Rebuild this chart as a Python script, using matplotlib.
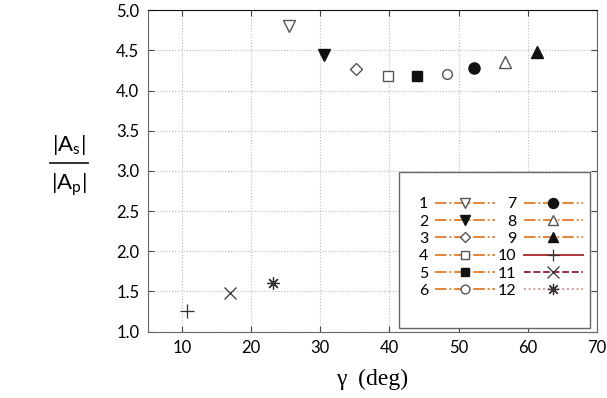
import numpy as np
import matplotlib
matplotlib.use("Agg")
import matplotlib.pyplot as plt
from matplotlib.lines import Line2D
from matplotlib.patches import Rectangle

# data
labels = ["1", "2", "3", "4", "5", "6", "7", "8", "9", "10", "11", "12"]
gamma = [25.4, 30.5, 35.2, 39.8, 44.0, 48.3, 52.2, 56.7, 61.3, 10.7, 16.9, 23.1]
ratio = [4.80, 4.44, 4.27, 4.18, 4.18, 4.21, 4.275, 4.36, 4.475, 1.26, 1.485, 1.60]

markers = ["v", "v", "D", "s", "s", "o", "o", "^", "^", "+", "x", (8, 2, 0)]
filled = [False, True, False, False, True, False, True, False, True, True, True, True]
msizes = [8, 8, 6, 6.5, 6.5, 7, 8, 8, 8, 10, 9, 9]
line_colors = ["#e07b28"] * 9 + ["#a8282e", "#8c1c2c", "#d98a8a"]
line_styles = ["-."] * 9 + ["-", "--", ":"]

plt.rcParams["font.family"] = ["Lato", "DejaVu Sans"]
plt.rcParams["mathtext.fontset"] = "custom"
plt.rcParams["mathtext.rm"] = "Lato"
plt.rcParams["mathtext.it"] = "Lato"


def marker_style(m, f):
    if m in ("+", "x") or isinstance(m, tuple):
        return dict(marker=m, mec="#333333", mfc="#333333", mew=0.9)
    if f:
        return dict(marker=m, mfc="#111111", mec="#111111")
    return dict(marker=m, mfc="white", mec="#555555", mew=1.0)


fig = plt.figure(figsize=(6.07, 3.98), dpi=100)
ax = fig.add_axes([0.2433, 0.1666, 0.7397, 0.808])

for g, r, m, f, ms in zip(gamma, ratio, markers, filled, msizes):
    ax.plot(g, r, ls="none", ms=ms, **marker_style(m, f))

ax.set_xlim(5, 70)
ax.set_ylim(1.0, 5.0)
ax.set_xticks(np.arange(10, 71, 10))
ax.set_yticks(np.arange(1.0, 5.01, 0.5))
ax.set_yticklabels([f"{v:.1f}" for v in np.arange(1.0, 5.01, 0.5)])
ax.grid(True, ls=":", color="#bbbbbb", lw=0.8)
ax.tick_params(direction="in", top=True, right=True, labelsize=12,
               length=4, color="#444444", pad=6)
for s in ["left", "bottom", "right"]:
    ax.spines[s].set_color("#666666")
ax.spines["top"].set_color("#111111")

ax.set_xlabel("γ  (deg)", family="Liberation Serif", fontsize=17, labelpad=9)

# |As| / |Ap| written as a fraction
fig.text(69 / 607, 1 - 145 / 398, r"$|\mathrm{A}_\mathrm{s}|$", fontsize=16,
         ha="center", va="center")
fig.text(69 / 607, 1 - 185 / 398, r"$|\mathrm{A}_\mathrm{p}|$", fontsize=16,
         ha="center", va="center")
fig.add_artist(Line2D([50 / 607, 88 / 607], [1 - 163 / 398, 1 - 163 / 398],
                      color="#222222", lw=1.3))

handles = []
for m, f, ms, c, ls in zip(markers, filled, msizes, line_colors, line_styles):
    handles.append(Line2D([], [], color=c, ls=ls, lw=1.3, ms=ms * 0.9,
                          **marker_style(m, f)))

leg = ax.legend(handles, labels, ncol=2, loc="upper left",
                bbox_to_anchor=(0.604, 0.419), frameon=False,
                borderaxespad=0, borderpad=0, markerfirst=False, fontsize=11.5,
                handlelength=3.7, handletextpad=0.45, columnspacing=0.2,
                labelspacing=0.2)
ax.add_patch(Rectangle((0.5597, 0.0115), 0.4254, 0.485, transform=ax.transAxes,
                       fill=True, fc="white", ec="#666666", lw=1.0, zorder=4))
leg.set_zorder(5)

fig.savefig("out.png", dpi=100)
